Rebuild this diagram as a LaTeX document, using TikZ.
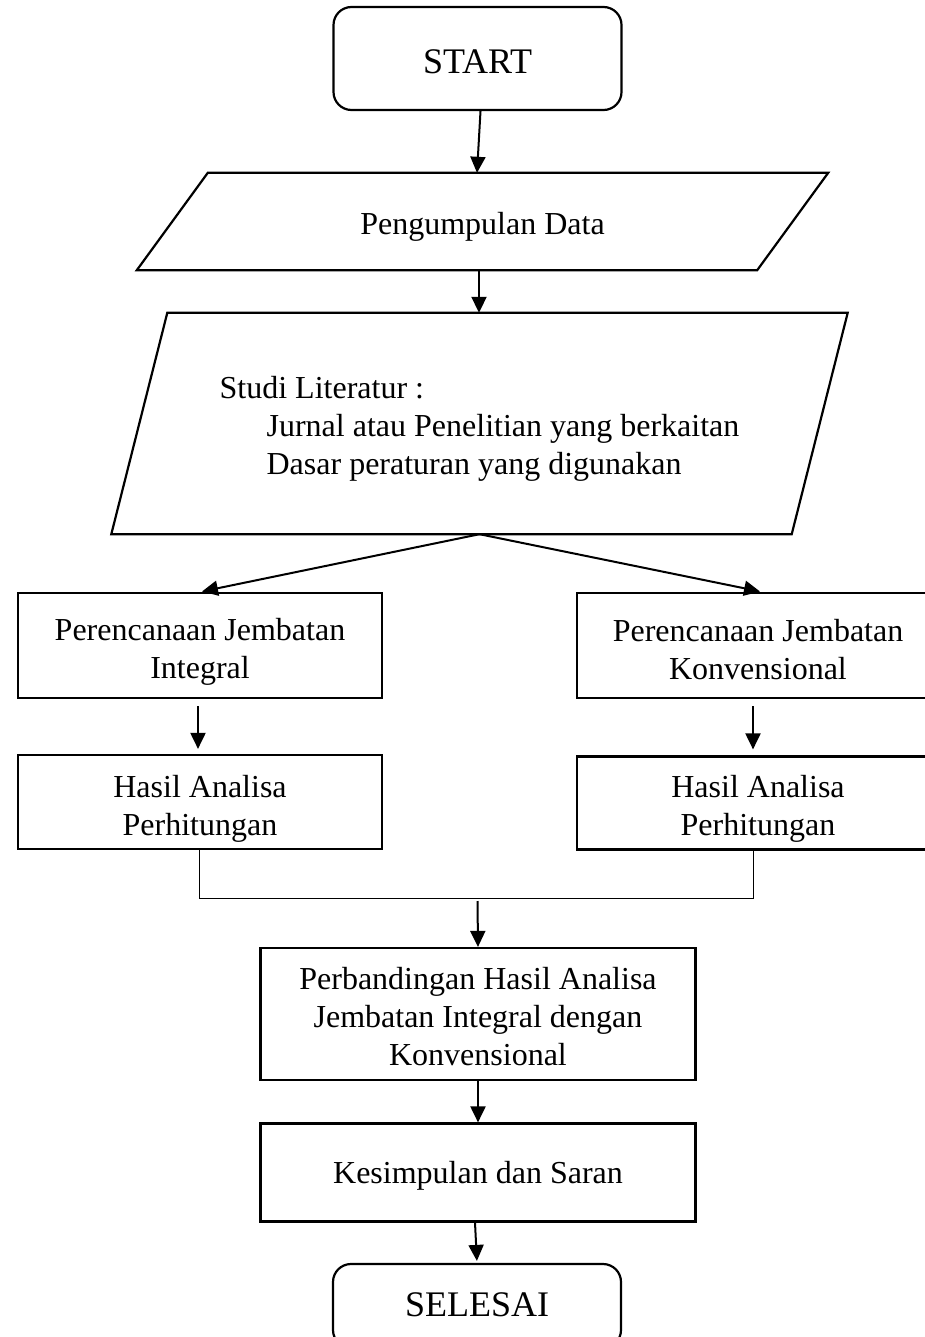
\documentclass[tikz,border=0pt]{standalone}
\usepackage{fontspec}
\setmainfont{Liberation Serif}
\usetikzlibrary{arrows.meta,calc}
\begin{document}
\begin{tikzpicture}[x=1pt,y=-1pt,
  txt/.style={font=\fontsize{32}{38}\selectfont, align=center, inner sep=0pt},
  procbox/.style={draw, line width=2.2pt, inner sep=0pt},
  termbox/.style={draw, line width=2.2pt, rounded corners=18pt, inner sep=0pt},
  termtxt/.style={font=\fontsize{36}{40}\selectfont, inner sep=0pt},
  ghost/.style={inner sep=0pt},
  outline/.style={draw, line width=2.2pt, line join=miter},
  arr/.style={line width=2pt, -{Triangle[length=16pt,width=15pt]}},
  thinline/.style={line width=1pt}
]
\clip (0,0) rectangle (925,1337);
\fill[white] (0,0) rectangle (925,1337);

% terminals (yshift is in canvas direction: negative = down)
\node[termbox, minimum width=288, minimum height=103] (start) at (477.5,58.5) {};
\node[termtxt] (startt) at ([yshift=-3.5]start.center) {START};
\node[termbox, minimum width=288, minimum height=84] (end) at (477,1306) {};
\node[termtxt] (endt) at ([yshift=1]end.center) {SELESAI};

% parallelogram 1
\node[ghost, minimum width=620, minimum height=97] (p1) at (482.5,221.5) {};
\draw[outline] ([xshift=35.5]p1.north west) -- ([xshift=35.5]p1.north east)
  -- ([xshift=-35.5]p1.south east) -- ([xshift=-35.5]p1.south west) -- cycle;
\node[txt] (p1t) at ([yshift=-5]p1.center) {Pengumpulan Data};

% parallelogram 2
\node[ghost, minimum width=680, minimum height=221] (p2) at (479.5,423.5) {};
\draw[outline] ([xshift=28]p2.north west) -- ([xshift=28]p2.north east)
  -- ([xshift=-28]p2.south east) -- ([xshift=-28]p2.south west) -- cycle;
\node[txt, align=left] (p2t) at ([yshift=-5]p2.center)
  {Studi Literatur :\\\hspace*{47pt}Jurnal atau Penelitian yang berkaitan\\\hspace*{47pt}Dasar peraturan yang digunakan};

% process boxes
\node[procbox, minimum width=364, minimum height=105] (b1l) at (200,645.5) {};
\node[txt] (b1lt) at ([yshift=-6]b1l.center) {Perencanaan Jembatan\\Integral};
\node[procbox, minimum width=362, minimum height=105] (b1r) at (758,645.5) {};
\node[txt] (b1rt) at ([yshift=-4.5]b1r.center) {Perencanaan Jembatan\\Konvensional};
\node[procbox, minimum width=364, minimum height=94] (b2l) at (200,802) {};
\node[txt] (b2lt) at ([yshift=-7]b2l.center) {Hasil Analisa\\Perhitungan};
\node[procbox, minimum width=362, minimum height=93] (b2r) at (758,803) {};
\node[txt] (b2rt) at ([yshift=-6]b2r.center) {Hasil Analisa\\Perhitungan};
\node[procbox, minimum width=435, minimum height=132] (cmp) at (478,1014) {};
\node[txt] (cmpt) at ([yshift=-3]cmp.center) {Perbandingan Hasil Analisa\\Jembatan Integral dengan\\Konvensional};
\node[procbox, minimum width=435, minimum height=98] (conc) at (478,1172.5) {};
\node[txt] (conct) at ([yshift=-3]conc.center) {Kesimpulan dan Saran};

% connectors
\draw[arr] ([xshift=3]start.south) -- ([xshift=-5.5]p1.north);
\draw[arr] ([xshift=-3.5]p1.south) -- ([xshift=-0.5]p2.north);
\draw[arr, shorten >=2pt] (p2.south) -- (b1l.north);
\draw[arr, shorten >=2pt] (p2.south) -- ([xshift=4]b1r.north);
\draw[arr, shorten <=7pt, shorten >=5pt] ([xshift=-2]b1l.south) -- ([xshift=-2]b2l.north);
\draw[arr, shorten <=7pt, shorten >=6pt] ([xshift=-5]b1r.south) -- ([xshift=-5]b2r.north);
\draw[thinline] ([xshift=-1]b2l.south) -- ++(0,48) -| ([xshift=-4.5]b2r.south);
\coordinate (join) at (477.5,901);
\draw[arr] (join) -- (cmp.north);
\draw[arr] (cmp.south) -- (conc.north);
\draw[arr, shorten >=2pt] ([xshift=-3]conc.south) -- (end.north);
\end{tikzpicture}
\end{document}
